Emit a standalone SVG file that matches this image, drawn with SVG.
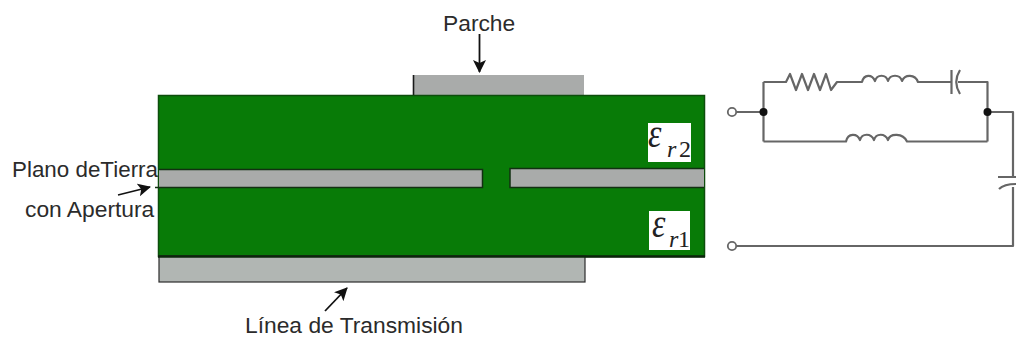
<svg xmlns="http://www.w3.org/2000/svg" width="1016" height="340" viewBox="0 0 1016 340">
<style>
.t{font-family:"Liberation Sans",Arial,sans-serif;font-size:22.800px;fill:#2b2b2b}
.g{fill:#a9abaa;stroke:none}
.w{fill:none;stroke:#666;stroke-width:2.200;stroke-linejoin:round}
.b{fill:none;stroke:#1a1a1a;stroke-width:1.600}
.e{font-family:"Liberation Serif",serif;font-style:italic;fill:#222}
.n{font-family:"Liberation Serif",serif;fill:#222}
</style>
<defs><marker id="a" markerUnits="userSpaceOnUse" markerWidth="14" markerHeight="14" refX="12" refY="6.500" orient="auto"><path d="M0 0L13 6.500L0 13L3 6.500Z" fill="#111"/></marker></defs>
<rect width="1016" height="340" fill="#fff"/>
<g id="parche"><rect x="413" y="75" width="171" height="21" class="g"/><path d="M413.500 96V75" class="b"/></g>
<g id="sustrato"><rect x="158.500" y="95.500" width="546" height="161" fill="#087b07" stroke="#0d4d0c" stroke-width="1.500"/></g>
<g id="plano-tierra">
<rect x="159" y="169.500" width="323" height="18" class="g"/>
<path d="M159 169.500H482.500V187.500H155" fill="none" stroke="#123012" stroke-width="1.500"/>
<rect x="510" y="169" width="194" height="18" class="g"/>
<path d="M704 168.500H510V187.500H704" fill="none" stroke="#123012" stroke-width="1.500"/>
</g>
<g id="linea"><rect x="159" y="256" width="426" height="26" fill="#b1b6b3" stroke="#2c2c2c" stroke-width="1.200"/><path d="M158 256.500H705" stroke="#0b240b" stroke-width="2.500"/></g>
<g id="er2"><rect x="648" y="123" width="43" height="39" fill="#fff"/><text class="e" font-size="40" transform="translate(648,147) scale(.85,1)">ε</text><text class="e" x="667" y="157" font-size="24">r</text><text class="n" x="679" y="157" font-size="24">2</text></g>
<g id="er1"><rect x="649" y="211" width="41" height="39" fill="#fff"/><text class="e" font-size="40" transform="translate(652,237) scale(.85,1)">ε</text><text class="e" x="669" y="247" font-size="24">r</text><text class="n" x="678" y="247" font-size="24">1</text></g>
<g id="circuito">
<path class="w" d="M737 112H763.500M763.500 82V141.500M763.500 82H786L790 74L796 90L802 74L808 90L814 74L820 90L826 74L831 90L837 82H862C864 74 872 74 875 81C877 74 886 74 888 81C890 74 900 74 902 81C905 74 915 74 918 82H951M958 82H987.500V141.500M763.500 141.500H846C848 133 857 133 860 140C862 133 871 133 874 140C876 133 885 133 888 140C890 133 903 133 907 141.500H987.500M987.500 112H1013V177M1013 187V246H737"/>
<path class="w" d="M951.500 70V94M960 70C955 78 955 86 960 94M998 177H1016M999 189C1003 185 1008 184 1016 184"/>
<circle cx="732" cy="112" r="4.200" fill="#fff" stroke="#666" stroke-width="1.800"/>
<circle cx="732" cy="246" r="4.200" fill="#fff" stroke="#666" stroke-width="1.800"/>
<circle cx="763.500" cy="112" r="4" fill="#111"/><circle cx="987.500" cy="112" r="4" fill="#111"/>
</g>
<g id="etiquetas">
<text class="t" x="443" y="31">Parche</text>
<text class="t" x="12" y="177" textLength="146" lengthAdjust="spacingAndGlyphs">Plano deTierra</text>
<text class="t" x="25" y="217">con Apertura</text>
<text class="t" x="245" y="333">Línea de Transmisión</text>
</g>
<g id="conectores" stroke="#111" stroke-width="1.800" fill="none">
<path d="M479.500 34V72" marker-end="url(#a)"/>
<path d="M118 195L150 187" marker-end="url(#a)"/>
<path d="M325 311L347 288" marker-end="url(#a)"/>
</g>
</svg>
